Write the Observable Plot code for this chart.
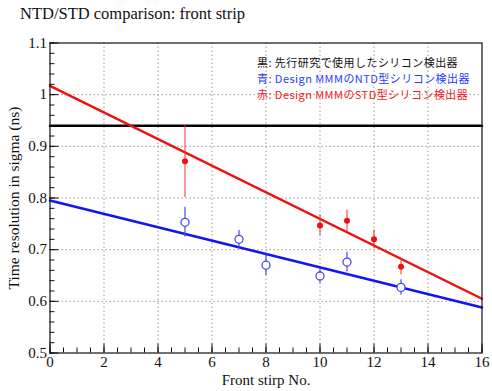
<!DOCTYPE html>
<html><head><meta charset="utf-8">
<script src="https://cdn.jsdelivr.net/npm/d3@7"></script>
<script src="https://cdn.jsdelivr.net/npm/@observablehq/plot@0.6"></script>
<style>
body{margin:0;background:#fff}
#wrap{position:relative;width:492px;height:391px}
#title{position:absolute;left:20px;top:4px;font:16.5px "Liberation Serif",serif;color:#111;white-space:nowrap}
.leg{position:absolute;left:257px;height:13px;font-size:11px;letter-spacing:0.45px;font-family:"Noto Sans CJK JP",sans-serif;line-height:13px;white-space:nowrap}
svg{position:absolute;left:0;top:0}
</style></head><body>
<div id="wrap"></div>
<script>
// NTD-type (blue, open circles)
const ntdStrips = [5, 7, 8, 10, 11, 13];
const ntdValues = [0.753, 0.720, 0.670, 0.649, 0.676, 0.627];
const ntdErrors = [0.029, 0.017, 0.020, 0.014, 0.019, 0.015];
// STD-type (red, filled dots)
const stdStrips = [5, 10, 11, 12, 13];
const stdValues = [0.871, 0.747, 0.756, 0.720, 0.667];
const stdErrors = [0.070, 0.020, 0.021, 0.018, 0.016];
// fitted lines (end points at strip 0 and 16) and previous-study level
const fitStrips = [0, 16];
const stdFit = [1.017, 0.605];
const ntdFit = [0.795, 0.588];
const previousLevel = [0.94, 0.94];
// axes
const xTicks = [0, 2, 4, 6, 8, 10, 12, 14, 16];
const yTicks = [0.5, 0.6, 0.7, 0.8, 0.9, 1.0, 1.1];
const xGridTicks = [2, 4, 6, 8, 10, 12, 14];
const yGridTicks = [0.6, 0.7, 0.8, 0.9, 1.0];
const xMinorTicks = d3.range(0, 16.01, 0.5);
const yMinorTicks = d3.range(0.5, 1.1001, 0.02).map(v => +v.toFixed(2));
const titleText = "NTD/STD comparison: front strip";
const xLabel = "Front stirp No.";
const yLabel = "Time resolution in sigma (ns)";
const legendLabels = ["黒: 先行研究で使用したシリコン検出器", "青: Design MMMのNTD型シリコン検出器", "赤: Design MMMのSTD型シリコン検出器"];
const legendColors = ["#111111", "#2a3cff", "#f01a1a"];

const RED = "#f01010", BLUE = "#1414f0";
const ntd = ntdStrips.map((x, i) => ({x, y: ntdValues[i], lo: ntdValues[i] - ntdErrors[i], hi: ntdValues[i] + ntdErrors[i]}));
const std = stdStrips.map((x, i) => ({x, y: stdValues[i], lo: stdValues[i] - stdErrors[i], hi: stdValues[i] + stdErrors[i]}));
const line = (ys) => fitStrips.map((x, i) => ({x, y: ys[i]}));
const grid = {stroke: "#9a9a9a", strokeOpacity: 1, strokeDasharray: "1.5,2.5", strokeWidth: 1};

const plot = Plot.plot({
  width: 492, height: 391,
  marginLeft: 49.5, marginRight: 10.5, marginTop: 42.5, marginBottom: 38.5,
  x: {domain: [0, 16]},
  y: {domain: [0.5, 1.1]},
  style: {fontFamily: "'Liberation Serif', serif", fontSize: "15px", color: "#111", background: "white", overflow: "visible"},
  marks: [
    Plot.gridX(xGridTicks, grid),
    Plot.gridY(yGridTicks, grid),
    Plot.line(line(previousLevel), {x: "x", y: "y", stroke: "#000", strokeWidth: 2.5}),
    Plot.line(line(stdFit), {x: "x", y: "y", stroke: RED, strokeWidth: 2.5}),
    Plot.line(line(ntdFit), {x: "x", y: "y", stroke: BLUE, strokeWidth: 2.5}),
    Plot.ruleX(std, {x: "x", y1: "lo", y2: "hi", stroke: "#f03030", strokeWidth: 1}),
    Plot.ruleX(ntd, {x: "x", y1: "lo", y2: "hi", stroke: "#4a4ae8", strokeWidth: 1.2}),
    Plot.dot(std, {x: "x", y: "y", r: 3, fill: RED, stroke: "none"}),
    Plot.dot(ntd, {x: "x", y: "y", r: 4, fill: "white", stroke: "#4a4ae8", strokeWidth: 1.3}),
    Plot.axisX(xMinorTicks, {anchor: "bottom", tickSize: -5, text: null, label: null}),
    Plot.axisX(xTicks, {anchor: "bottom", tickSize: -9, text: null, label: null}),
    Plot.axisX(xTicks, {anchor: "bottom", tickSize: 0, tickPadding: 3, label: null, tickFormat: d3.format("~g"), fontSize: 15}),
    Plot.axisY(yMinorTicks, {anchor: "left", tickSize: -5, text: null, label: null}),
    Plot.axisY(yTicks, {anchor: "left", tickSize: -9, text: null, label: null}),
    Plot.axisY(yTicks, {anchor: "left", tickSize: 0, tickPadding: 3, label: null, tickFormat: d3.format("~g"), fontSize: 15}),
    Plot.frame({stroke: "#111", strokeWidth: 1.2}),
    Plot.text([xLabel], {frameAnchor: "bottom", dy: 27, fontSize: 15, lineAnchor: "middle"}),
    Plot.text([yLabel], {frameAnchor: "left", dx: -36, rotate: -90, textAnchor: "middle", fontSize: 15.5})
  ]
});

const wrap = document.getElementById("wrap");
wrap.appendChild(plot);
const t = document.createElement("div");
t.id = "title"; t.textContent = titleText; wrap.appendChild(t);
const legendTops = [56, 72, 88];
legendLabels.forEach((s, i) => {
  const d = document.createElement("div");
  d.className = "leg";
  d.textContent = s; d.style.color = legendColors[i];
  d.style.top = legendTops[i] + "px";
  wrap.appendChild(d);
});
</script>
</body></html>
